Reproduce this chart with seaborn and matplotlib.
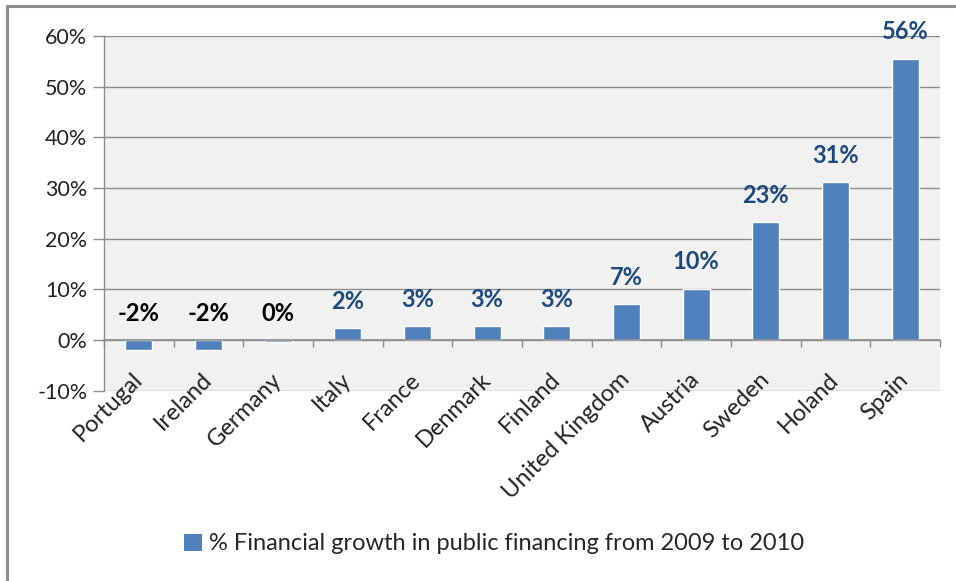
import matplotlib
matplotlib.use("Agg")
import matplotlib.pyplot as plt
import seaborn as sns
import pandas as pd
from matplotlib.lines import Line2D
from matplotlib.patches import Patch

countries = ["Portugal", "Ireland", "Germany", "Italy", "France", "Denmark",
             "Finland", "United Kingdom", "Austria", "Sweden", "Holand", "Spain"]
growth = [-1.9, -1.9, -0.4, 2.4, 2.7, 2.7, 2.7, 7.1, 10.1, 23.3, 31.2, 55.5]
value_labels = ["-2%", "-2%", "0%", "2%", "3%", "3%", "3%", "7%", "10%", "23%", "31%", "56%"]
yticks = [-10, 0, 10, 20, 30, 40, 50, 60]
series_name = "% Financial growth in public financing from 2009 to 2010"

sns.set_theme(style="white")
plt.rcParams["font.family"] = ["Lato", "DejaVu Sans"]

df = pd.DataFrame({"country": countries, "growth": growth})

fig = plt.figure(figsize=(9.56, 5.81), dpi=100)
ax = fig.add_axes([104/956, 1-390.7/581, (940-104)/956, (390.7-36)/581])
ax.set_facecolor("#F1F1F1")

bar_color = "#4F81BD"
grey = "#8C8C8C"
sns.barplot(data=df, x="country", y="growth", color=bar_color, width=0.39,
            saturation=1, ax=ax, zorder=3)

ax.set_ylim(-10, 60)
ax.set_xlim(-0.5, len(countries) - 0.5)
ax.set_yticks(yticks)
ax.set_yticklabels([f"{t}%" for t in yticks], fontsize=15.5, color="#222222")
ax.yaxis.grid(True, color=grey, linewidth=1.0, zorder=0)
ax.set_axisbelow(True)
ax.tick_params(axis="y", which="major", direction="out", length=8, width=1,
               color=grey, pad=4, left=True)

# category axis crossing at zero, with boundary ticks
ax.spines["bottom"].set_position(("data", 0))
ax.spines["bottom"].set_color(grey)
ax.spines["bottom"].set_linewidth(1.2)
ax.spines["bottom"].set_zorder(4)
ax.set_xticks(range(len(countries)))
ax.set_xticks([i - 0.5 for i in range(len(countries) + 1)], minor=True)
ax.tick_params(axis="x", which="major", length=0, pad=26)
ax.tick_params(axis="x", which="minor", bottom=True, direction="out", length=5,
               width=1, color=grey)
ax.set_xticklabels(countries, rotation=45, ha="right", va="center",
                   rotation_mode="anchor", fontsize=17, color="#222222")
ax.set_xlabel("")
ax.set_ylabel("")
for s in ["top", "right"]:
    ax.spines[s].set_visible(False)
ax.spines["left"].set_color(grey)
ax.spines["left"].set_linewidth(1.0)

for i, (v, lab) in enumerate(zip(growth, value_labels)):
    col = "#000000" if v < 1 else "#1F497D"
    ax.text(i, max(v, 0) + 5.3, lab, ha="center", va="center", fontsize=17,
            fontweight="bold", color=col, zorder=5)

handles = [Patch(facecolor=bar_color, edgecolor="none")]
fig.legend(handles, [series_name], loc="center", bbox_to_anchor=(494/956, 1-544/581),
           frameon=False, fontsize=17, handlelength=0.75, handleheight=0.75,
           handletextpad=0.3)

# outer chart border (left and top)
fig.add_artist(Line2D([7/956, 7/956], [0, 1-6/581], transform=fig.transFigure,
                      color=grey, linewidth=2.2))
fig.add_artist(Line2D([7/956, 1], [1-6/581, 1-6/581], transform=fig.transFigure,
                      color=grey, linewidth=2.2))

fig.savefig("out.png", dpi=100, facecolor="white")
